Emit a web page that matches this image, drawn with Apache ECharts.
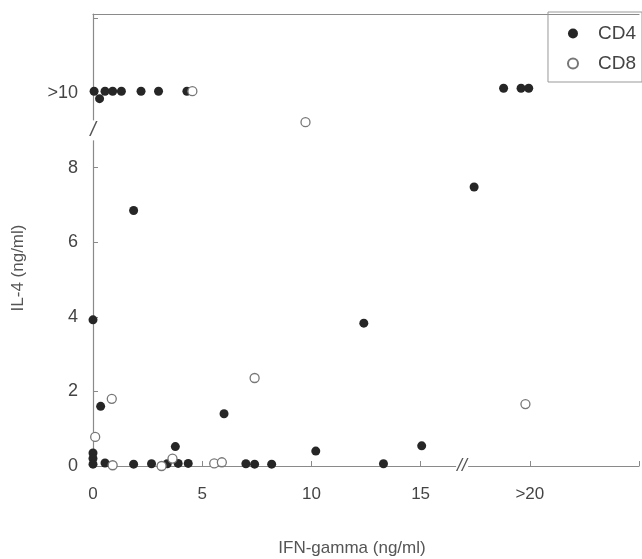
<!DOCTYPE html>
<html><head><meta charset="utf-8">
<script src="https://cdn.jsdelivr.net/npm/echarts@6/dist/echarts.min.js"></script>
<style>html,body{margin:0;padding:0;background:#fff}#c{width:642px;height:559px}</style>
</head><body><div id="c"></div>
<script>
const seriesNames = ['CD4', 'CD8'];
const cd4Points = [
  [0.05,10.05],[0.3,9.85],[0.55,10.05],[0.9,10.05],[1.3,10.05],[2.2,10.05],[3.0,10.05],[4.3,10.05],
  [18.8,10.13],[19.6,10.13],[19.95,10.13],
  [0,3.92],[1.86,6.85],[17.45,7.48],[12.4,3.83],[6.0,1.4],[3.77,0.52],[10.2,0.4],[15.05,0.54],[0.35,1.6],
  [0,0.35],[0,0.2],[0,0.05],[0.55,0.08],[1.86,0.05],[2.68,0.06],[3.4,0.06],[3.9,0.07],[4.36,0.07],
  [7.0,0.06],[7.4,0.05],[8.18,0.05],[13.3,0.06]
];
const cd8Points = [
  [4.55,10.05],[9.73,9.22],[7.4,2.36],[19.8,1.66],[0.86,1.8],[0.1,0.78],
  [0.9,0.02],[3.14,0.0],[3.64,0.2],[5.55,0.07],[5.9,0.1]
];
const xTicks = {0:'0',5:'5',10:'10',15:'15',20:'>20'};
const yTicks = {0:'0',2:'2',4:'4',6:'6',8:'8',10:'>10'};
const xTitle = 'IFN-gamma (ng/ml)';
const yTitle = 'IL-4 (ng/ml)';
const xBreak = 16.9, yBreak = 9.0;

const font = '"Liberation Sans", Arial, sans-serif';
const chart = echarts.init(document.getElementById('c'));
chart.setOption({
  animation: false,
  backgroundColor: '#fff',
  grid: {left: 93, right: 0, top: 14, bottom: 93, containLabel: false},
  legend: {
    data: seriesNames, orient: 'vertical', right: 0, top: 12,
    borderColor: '#999', borderWidth: 1, padding: [12, 6, 9, 19],
    itemWidth: 10, itemHeight: 10, itemGap: 11, icon: 'circle',
    textStyle: {fontFamily: font, fontSize: 19, color: '#444', padding: [0, 0, 0, 15]}
  },
  xAxis: [{
    type: 'value', min: 0, max: 25, interval: 5,
    axisLine: {show: true, lineStyle: {color: '#8a8a8a', width: 1.2}},
    axisTick: {show: true, inside: true, length: 5, lineStyle: {color: '#8a8a8a'}},
    splitLine: {show: false},
    axisLabel: {margin: 20, fontFamily: font, fontSize: 17, color: '#444',
      formatter: v => (xTicks[v] !== undefined ? xTicks[v] : '')}
  }, {
    type: 'value', min: 0, max: 25, position: 'top',
    axisLine: {show: true, lineStyle: {color: '#8a8a8a', width: 1.2}},
    axisTick: {show: false}, axisLabel: {show: false}, splitLine: {show: false}
  }],
  yAxis: {
    type: 'value', min: 0, max: 12.12, interval: 2,
    axisLine: {show: true, lineStyle: {color: '#8a8a8a', width: 1.2}},
    axisTick: {show: true, inside: true, length: 5, lineStyle: {color: '#8a8a8a'}},
    splitLine: {show: false},
    axisLabel: {margin: 15, fontFamily: font, fontSize: 18, color: '#444', showMaxLabel: false,
      formatter: v => (yTicks[v] !== undefined ? yTicks[v] : '')}
  },
  graphic: [
    {type: 'text', x: 352, y: 548, style: {text: xTitle, font: '17px ' + font, fill: '#555', align: 'center', verticalAlign: 'middle'}},
    {type: 'text', x: 18, y: 268, rotation: Math.PI / 2, style: {text: yTitle, font: '17px ' + font, fill: '#555', align: 'center', verticalAlign: 'middle'}}
  ],
  series: [
    {
      name: 'CD4', type: 'scatter', data: cd4Points, symbol: 'circle', symbolSize: 9,
      itemStyle: {color: '#262626', opacity: 1},
      markPoint: {
        symbol: 'rect', symbolSize: 0, silent: true,
        label: {show: true, color: '#555', fontFamily: font, fontSize: 18, fontStyle: 'italic', position: 'inside'},
        data: [
          {coord: [xBreak, 0], value: '//', label: {formatter: '//', backgroundColor: '#fff', padding: [0, 1]}},
          {coord: [0, yBreak], value: '/', label: {formatter: '/', backgroundColor: '#fff', fontSize: 20}}
        ]
      },
      z: 3
    },
    {
      name: 'CD8', type: 'scatter', data: cd8Points, symbol: 'circle', symbolSize: 9,
      itemStyle: {color: '#fff', borderColor: '#777', borderWidth: 1.3, opacity: 1},
      z: 4
    }
  ]
});
</script></body></html>
